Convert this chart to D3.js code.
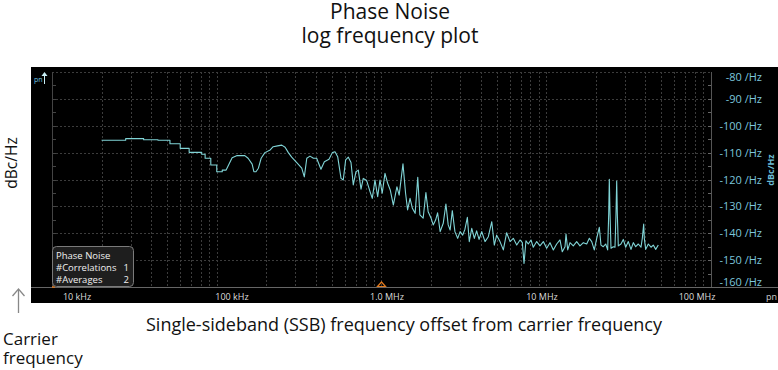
<!DOCTYPE html>
<html>
<head>
<meta charset="utf-8">
<script src="https://cdn.jsdelivr.net/npm/d3@7.9.0/dist/d3.min.js"></script>
<style>
  body { margin: 0; background: #fff; }
  svg { display: block; font-family: "Open Sans", "Noto Sans", sans-serif; }
</style>
</head>
<body>
<svg id="chart" width="778" height="370"></svg>
<script>
// trace: offset frequency (kHz) and phase noise (dBc/Hz)
const freqKHz = [
  20, 28, 28, 36, 36, 44, 44, 52, 52, 60, 60, 68, 68, 81, 81, 85, 85, 92, 92, 100,
  100, 108, 108, 114, 124, 133, 148, 155, 164, 168, 173, 179, 186, 196, 211, 220, 234, 248, 260, 272,
  285, 306, 328, 340, 352, 368, 386, 404, 429, 450, 480, 503, 522, 542, 568, 586, 606, 629, 653, 674,
  700, 723, 751, 775, 813, 852, 879, 913, 948, 979, 1010, 1050, 1090, 1130, 1180, 1240, 1280, 1350, 1400, 1440,
  1490, 1540, 1600, 1660, 1710, 1790, 1860, 1920, 2000, 2060, 2130, 2190, 2270, 2370, 2460, 2540, 2610, 2690, 2790, 2900,
  3000, 3110, 3210, 3320, 3410, 3530, 3660, 3780, 3910, 4060, 4250, 4450, 4670, 4840, 5000, 5240, 5490, 5750, 6030, 6310,
  6620, 6930, 7160, 7330, 7530, 7780, 8080, 8340, 8750, 9160, 9600, 10060, 10540, 11040, 11570, 12120, 12510, 13000, 13180, 13500,
  13940, 14590, 15300, 16020, 16790, 17600, 18260, 18880, 19570, 20240, 20990, 21490, 22190, 22950, 23600, 23940, 24140, 24380, 24720, 25530,
  26140, 26510, 26770, 27000, 27370, 28420, 29350, 30350, 31480, 32690, 33760, 34910, 36200, 37590, 38280, 39040, 39370, 40150, 41640, 43240,
  44640, 46170, 47880
];
const dbc = [
  -105.4, -105.4, -104.8, -104.8, -105.2, -105.2, -105.4, -105.4, -106.7, -106.7, -108.4, -108.4, -109.9, -109.9, -110.6, -110.6, -112.1, -112.1, -114.6, -114.6,
  -117.1, -117.1, -116.5, -116.5, -111.9, -111.1, -111.1, -112.1, -114.3, -117.1, -117.1, -115.8, -112.1, -110.0, -109.0, -107.8, -107.5, -107.2, -108.0, -110.0,
  -111.7, -113.7, -115.8, -119.0, -112.1, -111.3, -112.1, -112.1, -116.2, -113.4, -112.5, -110.0, -109.7, -111.5, -119.6, -120.2, -112.7, -111.7, -113.7, -122.0,
  -117.1, -116.5, -123.6, -119.6, -120.4, -124.5, -127.0, -120.2, -126.4, -120.2, -125.1, -117.7, -121.4, -123.9, -129.5, -122.7, -125.8, -114.2, -125.1, -131.3,
  -127.0, -130.7, -132.6, -119.2, -133.2, -134.4, -124.9, -132.0, -134.4, -136.9, -135.1, -132.4, -139.4, -136.3, -129.1, -136.9, -138.8, -131.6, -139.4, -141.9,
  -139.4, -140.7, -138.5, -134.1, -143.1, -138.2, -141.9, -139.1, -142.3, -139.4, -143.1, -141.3, -135.7, -144.4, -140.7, -143.1, -146.2, -139.8, -143.1, -141.9,
  -144.4, -142.5, -143.5, -151.2, -142.8, -144.0, -142.5, -145.2, -143.1, -144.7, -143.1, -145.6, -143.5, -146.2, -144.0, -142.5, -146.9, -145.0, -140.3, -146.2,
  -143.5, -144.7, -143.1, -144.7, -143.5, -144.0, -141.9, -143.1, -146.2, -141.9, -137.8, -144.4, -145.0, -144.0, -146.2, -132.6, -119.9, -132.6, -145.6, -145.0,
  -145.2, -132.6, -120.6, -132.6, -144.7, -144.0, -142.3, -145.2, -143.1, -146.0, -143.5, -145.0, -144.0, -145.2, -141.9, -136.6, -141.9, -146.0, -144.0, -145.2,
  -144.4, -146.0, -144.4
];

const xTickLabels = ['10 kHz', '100 kHz', '1.0 MHz', '10 MHz', '100 MHz'];
const yTicks = [-80, -90, -100, -110, -120, -130, -140, -150, -160];
const legendLines = [['Phase Noise', ''], ['#Correlations', '1'], ['#Averages', '2']];
const markerFreqKHz = 1000;

const svg = d3.select('#chart');

const x = d3.scaleLog().domain([1e4, 1e8]).range([52, 711]);
const y = d3.scaleLinear().domain([-160, -80]).range([287, 72]);
const xLabelPos = d3.scalePoint().domain(xTickLabels).range([77, 697]);

// titles outside the screen
svg.append('text').attr('x', 390).attr('y', 19).attr('text-anchor', 'middle')
  .attr('font-size', 21).attr('fill', '#111').text('Phase Noise');
svg.append('text').attr('x', 390).attr('y', 43).attr('text-anchor', 'middle')
  .attr('font-size', 21).attr('fill', '#111').text('log frequency plot');

svg.append('text')
  .attr('transform', 'translate(17,163) rotate(-90)')
  .attr('text-anchor', 'middle').attr('font-size', 15.5).attr('fill', '#111').text('dBc/Hz');

// instrument screen
svg.append('rect').attr('x', 31).attr('y', 67).attr('width', 747).attr('height', 236).attr('fill', '#000');

const grid = svg.append('g');
const minorFreqs = [];
for (let e = 4; e < 8; e++) {
  for (let m = 1; m <= 9; m++) minorFreqs.push(m * Math.pow(10, e));
}
minorFreqs.push(1e8);

grid.selectAll('line.v')
  .data(minorFreqs.slice(1))
  .enter()
  .append('line')
    .attr('class', 'v')
    .attr('x1', d => Math.round(x(d)) + 0.5).attr('x2', d => Math.round(x(d)) + 0.5)
    .attr('y1', y(-80)).attr('y2', y(-160))
    .attr('stroke', '#3c3c3c').attr('stroke-dasharray', '2,2');

grid.selectAll('line.h')
  .data(yTicks.slice(0, -1))
  .enter()
  .append('line')
    .attr('class', 'h')
    .attr('x1', x(1e4)).attr('x2', x(1e8))
    .attr('y1', d => Math.round(y(d)) + 0.5).attr('y2', d => Math.round(y(d)) + 0.5)
    .attr('stroke', '#3c3c3c').attr('stroke-dasharray', '2,2');

// frame lines
svg.append('line').attr('x1', 52.5).attr('x2', 52.5).attr('y1', 72).attr('y2', 287)
  .attr('stroke', '#444');
svg.append('line').attr('x1', 711.5).attr('x2', 711.5).attr('y1', 72).attr('y2', 287)
  .attr('stroke', '#555');
svg.append('line').attr('x1', 31).attr('x2', 778).attr('y1', 287.5).attr('y2', 287.5)
  .attr('stroke', '#666');

// right-edge minor ticks every 5 dB
const fiveDb = d3.range(-155, -80, 5);
svg.selectAll('line.rt')
  .data(fiveDb)
  .enter()
  .append('line')
    .attr('x1', 708).attr('x2', 711)
    .attr('y1', d => Math.round(y(d)) + 0.5).attr('y2', d => Math.round(y(d)) + 0.5)
    .attr('stroke', '#666');
svg.selectAll('line.lt')
  .data(fiveDb)
  .enter()
  .append('line')
    .attr('x1', 53).attr('x2', 56)
    .attr('y1', d => Math.round(y(d)) + 0.5).attr('y2', d => Math.round(y(d)) + 0.5)
    .attr('stroke', '#444');

// trace
const pts = freqKHz.map((f, i) => [f * 1e3, dbc[i]]);
const line = d3.line().x(d => x(d[0])).y(d => y(d[1]));
svg.append('path')
  .attr('d', line(pts))
  .attr('fill', 'none')
  .attr('stroke', '#80d4d6')
  .attr('stroke-width', 1.1)
  .attr('stroke-linejoin', 'round');

// right axis labels
svg.selectAll('text.yl')
  .data(yTicks)
  .enter()
  .append('text')
    .attr('x', 762)
    .attr('y', d => Math.min(Math.max(y(d), 77), 282) + 4)
    .attr('text-anchor', 'end')
    .attr('font-size', 11)
    .attr('fill', '#7cc6dc')
    .text(d => `${d} /Hz`);

svg.append('text')
  .attr('transform', 'translate(774,170) rotate(-90)')
  .attr('text-anchor', 'middle').attr('font-size', 9).attr('font-weight', 'bold')
  .attr('fill', '#6cbcd4').text('dBc/Hz');

// bottom axis labels
svg.selectAll('text.xl')
  .data(xTickLabels)
  .enter()
  .append('text')
    .attr('x', d => xLabelPos(d))
    .attr('y', 300)
    .attr('text-anchor', 'middle')
    .attr('font-size', 9)
    .attr('fill', '#ddd')
    .text(d => d);

svg.append('text').attr('x', 766).attr('y', 300).attr('font-size', 9).attr('fill', '#ccc').text('pn');

// top-left trace label and arrow
svg.append('text').attr('x', 34).attr('y', 82).attr('font-size', 7).attr('fill', '#6cc6e0').text('pn');
svg.append('line').attr('x1', 44.5).attr('x2', 44.5).attr('y1', 74).attr('y2', 84)
  .attr('stroke', '#c8eef4');
svg.append('path').attr('d', 'M41.5,76 L44.5,72 L47.5,76 Z').attr('fill', '#c8eef4');

// reference marker at 1 MHz
const mx = x(markerFreqKHz * 1e3);
svg.append('path')
  .attr('d', `M${mx - 4},286.5 L${mx},282 L${mx + 4},286.5 Z`)
  .attr('fill', 'none').attr('stroke', '#e07a1f').attr('stroke-width', 1.2);
svg.append('line').attr('x1', 52).attr('x2', 55).attr('y1', 287).attr('y2', 287)
  .attr('stroke', '#e07a1f').attr('stroke-width', 1.5);

// legend box
const lg = svg.append('g');
lg.append('rect').attr('x', 52.5).attr('y', 246.5).attr('width', 81).attr('height', 40)
  .attr('rx', 4).attr('fill', '#1e1e1e').attr('stroke', '#7a7a7a');
lg.selectAll('text.k')
  .data(legendLines)
  .enter()
  .append('text')
    .attr('x', 56).attr('y', (d, i) => 259 + i * 12)
    .attr('font-size', 9.5).attr('fill', '#f0f0f0')
    .text(d => d[0]);
lg.selectAll('text.v')
  .data(legendLines)
  .enter()
  .append('text')
    .attr('x', 129).attr('y', (d, i) => 259 + i * 12)
    .attr('text-anchor', 'end')
    .attr('font-size', 9.5).attr('fill', '#f0f0f0')
    .text(d => d[1]);

// caption below
svg.append('text').attr('x', 404).attr('y', 331).attr('text-anchor', 'middle')
  .attr('font-size', 18).attr('fill', '#111')
  .text('Single-sideband (SSB) frequency offset from carrier frequency');
svg.append('text').attr('x', 3).attr('y', 345).attr('font-size', 17).attr('fill', '#111').text('Carrier');
svg.append('text').attr('x', 3).attr('y', 364).attr('font-size', 17).attr('fill', '#111').text('frequency');

// carrier arrow
svg.append('line').attr('x1', 18.5).attr('x2', 18.5).attr('y1', 313).attr('y2', 290)
  .attr('stroke', '#888').attr('stroke-width', 1.3);
svg.append('path').attr('d', 'M12.5,296 L18.5,289 L24.5,296').attr('fill', 'none')
  .attr('stroke', '#888').attr('stroke-width', 1.3);
</script>
</body>
</html>
